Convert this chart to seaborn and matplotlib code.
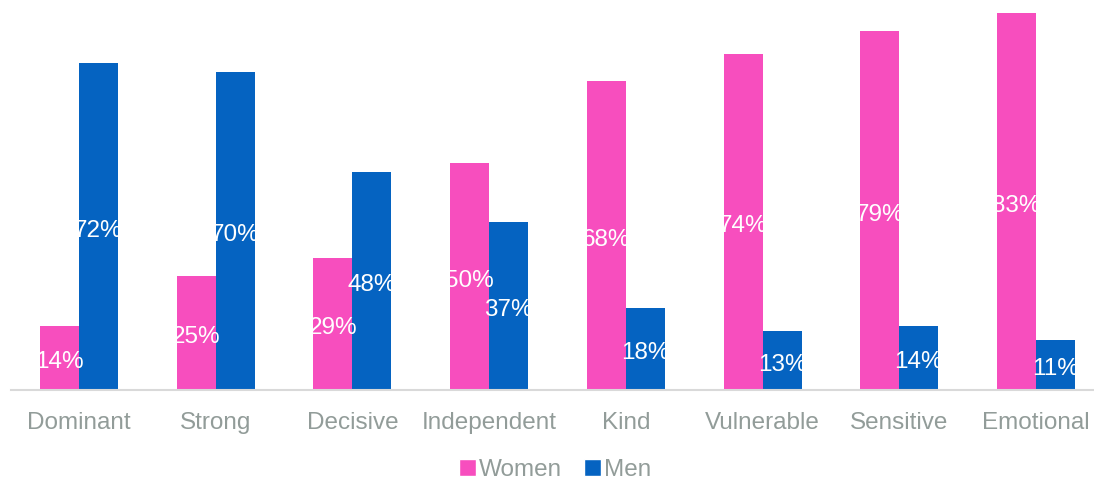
import matplotlib
matplotlib.use("Agg")
import matplotlib.pyplot as plt
import seaborn as sns
import pandas as pd
from matplotlib.patches import Patch

categories = ["Dominant", "Strong", "Decisive", "Independent", "Kind", "Vulnerable", "Sensitive", "Emotional"]
women = [14, 25, 29, 50, 68, 74, 79, 83]
men = [72, 70, 48, 37, 18, 13, 14, 11]
series = ["Women", "Men"]
colors = {"Women": "#F74EBE", "Men": "#0563C1"}

df = pd.DataFrame({
    "Category": categories * 2,
    "Value": women + men,
    "Series": ["Women"] * len(categories) + ["Men"] * len(categories),
})

sns.set_theme(style="white")
plt.rcParams["font.family"] = ["Liberation Sans", "DejaVu Sans"]

W, H = 1094, 479
fig = plt.figure(figsize=(W / 100, H / 100), dpi=100)
left, right = 10.5, 1104.5
bottom, top = 390, 0
ax = fig.add_axes([left / W, 1 - bottom / H, (right - left) / W, (bottom - top) / H])

sns.barplot(data=df, x="Category", y="Value", hue="Series", hue_order=series,
            palette=colors, width=0.57, gap=0, ax=ax, legend=False, saturation=1,
            errorbar=None, linewidth=0)

ax.set_ylim(0, 390 / 4.542)
ax.set_xlim(-0.5, len(categories) - 0.5)
for c in ax.containers:
    labs = ax.bar_label(c, labels=[f"{int(round(v))}%" for v in c.datavalues],
                        label_type="center", color="white", fontsize=17.5)
    for t in labs:
        t.xyann = (0, -3)

for s in ["top", "right", "left"]:
    ax.spines[s].set_visible(False)
ax.spines["bottom"].set_color("#D9D9D9")
ax.spines["bottom"].set_linewidth(1.5)
ax.set_yticks([])
ax.set_xlabel("")
ax.set_ylabel("")
ax.tick_params(axis="x", length=0, pad=16, labelsize=17.5, labelcolor="#929C99")

handles = [Patch(facecolor=colors[s], label=s) for s in series]
leg = fig.legend(handles=handles, loc="center", bbox_to_anchor=(555 / W, 1 - 470 / H),
                 ncol=2, frameon=False, fontsize=17.5, handlelength=0.7, handleheight=0.7,
                 handletextpad=0.12, columnspacing=0.9)
for t in leg.get_texts():
    t.set_color("#929C99")

fig.savefig("out.png", dpi=100)
